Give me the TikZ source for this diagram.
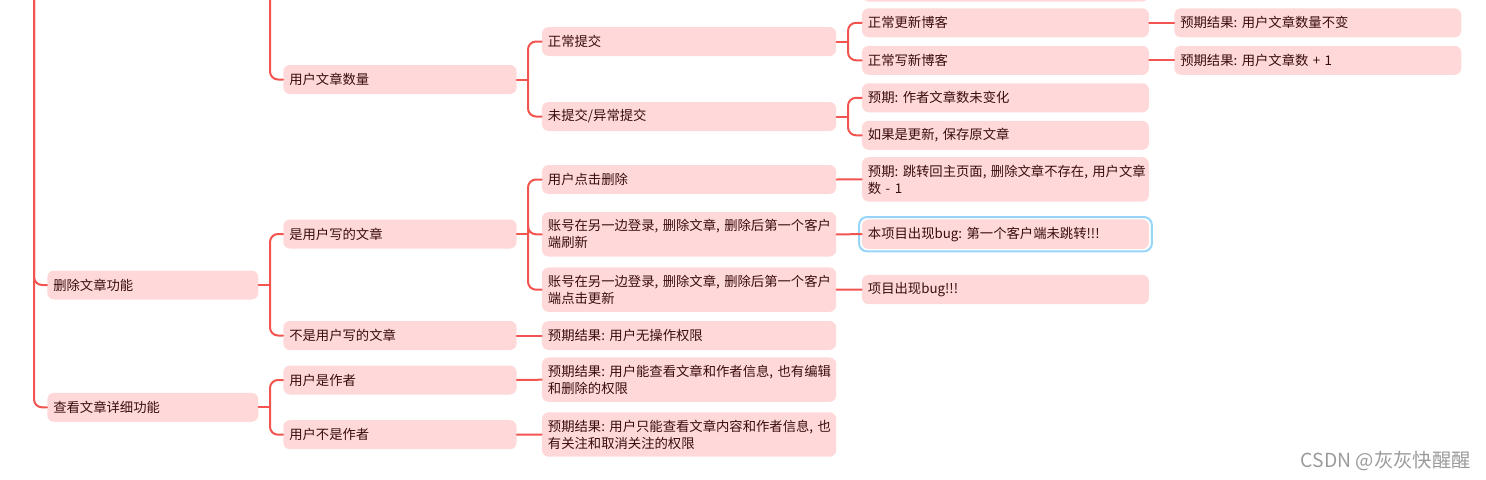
\documentclass[tikz,border=0pt]{standalone}
\usepackage{fontspec}
\setmainfont{Noto Sans CJK SC}
\definecolor{topicfill}{RGB}{255,217,217}
\definecolor{topictext}{RGB}{58,12,12}
\definecolor{linkred}{RGB}{242,84,80}
\definecolor{selblue}{RGB}{150,212,250}
\definecolor{wmgray}{RGB}{155,155,155}
\frenchspacing
\begin{document}
\begin{tikzpicture}[x=0.75pt, y=-0.75pt, line cap=round, line join=round,
    topic/.style={rectangle, rounded corners=5pt, fill=topicfill, text=topictext,
      anchor=west, align=left, inner xsep=4.5pt, inner ysep=5.6pt,
      minimum height=21.75pt, font=\fontsize{10pt}{12.75pt}\selectfont},
    colA/.style={topic, text width=149.25pt},
    colB/.style={topic, text width=166pt},
    colC/.style={topic, text width=211.7pt},
    colD/.style={topic, text width=206.25pt},
    link/.style={draw=linkred, line width=1.5pt, rounded corners=6pt},
    stub/.style={draw=linkred, line width=1.5pt},
    selring/.style={draw=selblue, line width=1.5pt, rounded corners=6pt},
    wmtext/.style={text=wmgray, font=\fontsize{14.5pt}{17pt}\selectfont, inner sep=0pt}]
  \useasboundingbox (0,0) rectangle (1486,479);
  \clip (0,0) rectangle (1486,479);
  \coordinate (rootIn) at (34,-30);
  \coordinate (upB) at (270,-30);
  \coordinate (jB) at (270,0);
  \coordinate (jC) at (528,0);
  \coordinate (jD) at (848,0);
  \node[colA] (del) at (47,285) {删除文章功能};
  \node[colA] (view) at (47,407.3) {查看文章详细功能};
  \node[colB] (cnt) at (283,79.5) {用户文章数量};
  \node[colB] (own) at (283,234) {是用户写的文章};
  \node[colB] (notown) at (283,335.5) {不是用户写的文章};
  \node[colB] (isauth) at (283,380) {用户是作者};
  \node[colB] (notauth) at (283,434.7) {用户不是作者};
  \node[colC] (ok) at (541.7,41.5) {正常提交};
  \node[colC] (fail) at (541.7,116.5) {未提交/异常提交};
  \node[colC] (click) at (541.7,179.5) {用户点击删除};
  \node[colC] (refresh) at (541.7,234.3) {账号在另一边登录,~删除文章,~删除后第一个客户\\端刷新};
  \node[colC] (upd) at (541.7,289.7) {账号在另一边登录,~删除文章,~删除后第一个客户\\端点击更新};
  \node[colC] (noperm) at (541.7,335.5) {预期结果: 用户无操作权限};
  \node[colC] (authres) at (541.7,379.7) {预期结果:~用户能查看文章和作者信息,~也有编辑\\和删除的权限};
  \node[colC] (readres) at (541.7,434.5) {预期结果:~用户只能查看文章内容和作者信息,~也\\有关注和取消关注的权限};
  \node[colD] (prevD) at (861.7,-13) {};
  \node[colD] (edit) at (861.7,22.8) {正常更新博客};
  \node[colD] (write) at (861.7,60.3) {正常写新博客};
  \node[colD] (same) at (861.7,97.8) {预期: 作者文章数未变化};
  \node[colD] (keep) at (861.7,135.3) {如果是更新, 保存原文章};
  \node[colD] (jump) at (861.7,179.4) {预期:~跳转回主页面,~删除文章不存在,~用户文章\\数 - 1};
  \node[colD] (bugA) at (861.7,234.2) {本项目出现bug: 第一个客户端未跳转!!!};
  \node[colD] (bugB) at (861.7,289.5) {项目出现bug!!!};
  \node[colD] (resA) at (1174,22.8) {预期结果: 用户文章数量不变};
  \node[colD] (resB) at (1174,60.3) {预期结果: 用户文章数 + 1};
  \draw[selring] ([shift={(-2pt,1.6pt)}]bugA.north west) rectangle ([shift={(2pt,-1.6pt)}]bugA.south east);
  \draw[link] (rootIn) |- (del.west);
  \draw[link] (rootIn) |- (view.west);
  \draw[link] (upB) |- (cnt.west);
  \draw[stub] (del.east) -- (del.east -| jB);
  \draw[link] (del.east -| jB) |- (own.west);
  \draw[link] (del.east -| jB) |- (notown.west);
  \draw[stub] (view.east) -- (view.east -| jB);
  \draw[link] (view.east -| jB) |- (isauth.west);
  \draw[link] (view.east -| jB) |- (notauth.west);
  \draw[stub] (cnt.east) -- (cnt.east -| jC);
  \draw[link] (cnt.east -| jC) |- (ok.west);
  \draw[link] (cnt.east -| jC) |- (fail.west);
  \draw[stub] (own.east) -- (own.east -| jC);
  \draw[link] (own.east -| jC) |- (click.west);
  \draw[link] (own.east -| jC) |- (refresh.west);
  \draw[link] (own.east -| jC) |- (upd.west);
  \draw[stub] (notown.east) -- (noperm.west);
  \draw[stub] (isauth.east) -- (authres.west);
  \draw[stub] (notauth.east) -- (readres.west);
  \draw[stub] (ok.east) -- (ok.east -| jD);
  \draw[link] (ok.east -| jD) |- (edit.west);
  \draw[link] (ok.east -| jD) |- (write.west);
  \draw[stub] (fail.east) -- (fail.east -| jD);
  \draw[link] (fail.east -| jD) |- (same.west);
  \draw[link] (fail.east -| jD) |- (keep.west);
  \draw[stub] (click.east) -- (jump.west);
  \draw[stub] (refresh.east) -- (bugA.west);
  \draw[stub] (upd.east) -- (bugB.west);
  \draw[stub] (edit.east) -- (resA.west);
  \draw[stub] (write.east) -- (resB.west);
  \node[wmtext, anchor=east] (wm) at (1471,461) {CSDN @灰灰快醒醒};
\end{tikzpicture}
\end{document}
